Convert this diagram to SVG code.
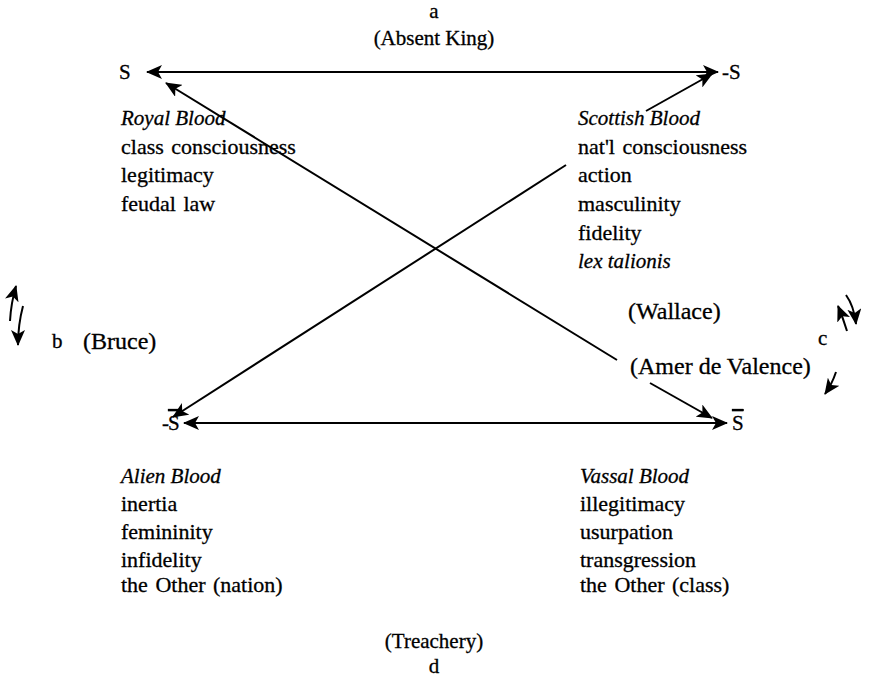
<svg xmlns="http://www.w3.org/2000/svg" width="869" height="677" viewBox="0 0 869 677">
<defs>
<marker id="ah" markerUnits="userSpaceOnUse" markerWidth="16" markerHeight="14" viewBox="0 0 16 14" refX="15" refY="7" orient="auto-start-reverse">
<path d="M0,0 L16,7 L0,14 L4,7 z" fill="#000"/>
</marker>
</defs>
<style>
text{font-family:"Liberation Serif","Times New Roman",serif;font-size:21px;fill:#000;stroke:#000;stroke-width:0.3}
.i{font-style:italic}
.m{text-anchor:middle}
.l{font-size:22px;word-spacing:2px}
.p{font-size:24px}
.c{stroke:#000;stroke-width:2;fill:none}
</style>
<rect width="869" height="677" fill="#fff"/>
<g id="connectors">
<line class="c" x1="147" y1="72" x2="718" y2="72" marker-start="url(#ah)" marker-end="url(#ah)"/>
<line class="c" x1="184" y1="423" x2="727" y2="423" marker-start="url(#ah)" marker-end="url(#ah)"/>
<line class="c" x1="617" y1="360" x2="166" y2="83" marker-end="url(#ah)"/>
<line class="c" x1="566" y1="165" x2="173" y2="417" marker-end="url(#ah)"/>
<line class="c" x1="646" y1="111" x2="712" y2="74" marker-end="url(#ah)"/>
<line class="c" x1="650" y1="383" x2="712" y2="418" marker-end="url(#ah)"/>
<path class="c" d="M10,321 Q11,303 16,286" marker-end="url(#ah)"/>
<path class="c" d="M23,306 Q18,325 18,345" marker-end="url(#ah)"/>
<path class="c" d="M847,331 Q843,318 838,306" marker-end="url(#ah)"/>
<path class="c" d="M846,295 Q854,306 856,324" marker-end="url(#ah)"/>
<path class="c" d="M836,372 Q832,384 825,394" marker-end="url(#ah)"/>
</g>
<g id="a"><text class="m" x="434" y="18">a</text><text class="m" x="434" y="45">(Absent King)</text></g>
<g id="S"><text x="119" y="79">S</text></g>
<g id="negS"><text x="722" y="79">-S</text></g>
<g id="negSbar"><text x="162" y="430">-</text><text x="168" y="430" text-decoration="overline">S</text></g>
<g id="Sbar"><text x="732" y="430" text-decoration="overline">S</text></g>
<g id="royal">
<text class="i" x="121" y="125">Royal Blood</text>
<text class="l" x="121" y="154">class consciousness</text>
<text class="l" x="121" y="182">legitimacy</text>
<text class="l" x="121" y="211">feudal law</text>
</g>
<g id="scottish">
<text class="i" x="578" y="125">Scottish Blood</text>
<text class="l" x="578" y="154">nat'l consciousness</text>
<text class="l" x="578" y="182">action</text>
<text class="l" x="578" y="211">masculinity</text>
<text class="l" x="578" y="240">fidelity</text>
<text class="i" x="578" y="268">lex talionis</text>
</g>
<g id="b"><text x="52" y="348">b</text><text class="p" x="83" y="349">(Bruce)</text></g>
<g id="wallace"><text class="p" x="628" y="319">(Wallace)</text></g>
<g id="c"><text x="818" y="345">c</text></g>
<g id="amer"><text class="p" x="630" y="374">(Amer de Valence)</text></g>
<g id="alien">
<text class="i" x="121" y="483">Alien Blood</text>
<text class="l" x="121" y="511">inertia</text>
<text class="l" x="121" y="539">femininity</text>
<text class="l" x="121" y="567">infidelity</text>
<text class="l" x="121" y="592">the Other (nation)</text>
</g>
<g id="vassal">
<text class="i" x="580" y="483">Vassal Blood</text>
<text class="l" x="580" y="511">illegitimacy</text>
<text class="l" x="580" y="539">usurpation</text>
<text class="l" x="580" y="567">transgression</text>
<text class="l" x="580" y="592">the Other (class)</text>
</g>
<g id="d"><text class="m" x="434" y="648">(Treachery)</text><text class="m" x="434" y="673">d</text></g>
</svg>
